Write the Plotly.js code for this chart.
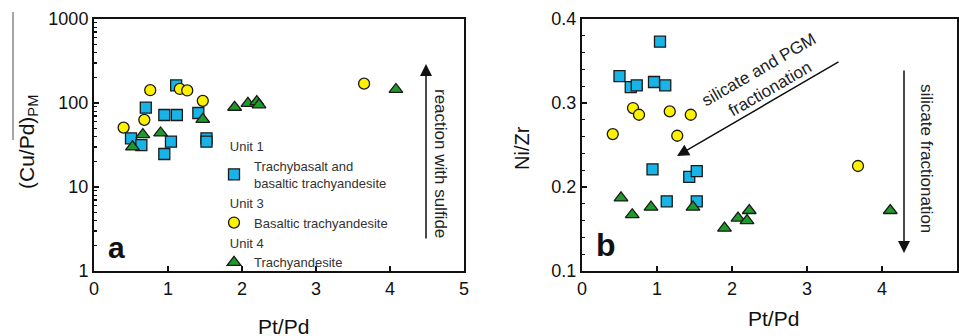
<!DOCTYPE html>
<html>
<head>
<meta charset="utf-8">
<script src="https://cdn.plot.ly/plotly-3.0.1.min.js"></script>
<style>html,body{margin:0;padding:0;background:#fff;}#chart{width:959px;height:336px;}</style>
</head>
<body>
<div id="chart"></div>
<script>
// ---- Data ----
// Panel a: Pt/Pd vs (Cu/Pd)PM
const sqX_a = [0.50, 0.64, 0.70, 0.95, 0.95, 1.04, 1.11, 1.12, 1.41, 1.52, 1.52];
const sqY_a = [38, 31.5, 88, 72, 24.7, 34.7, 162, 72, 76, 38, 34.7];
const ciX_a = [0.40, 0.68, 0.76, 1.16, 1.26, 1.47, 3.65];
const ciY_a = [51, 63, 142, 147, 141, 106, 170];
const trX_a = [0.52, 0.66, 0.90, 1.47, 1.90, 2.08, 2.20, 2.23, 4.08];
const trY_a = [30, 42, 44, 64, 89, 99, 104, 95, 145];
// Panel b: Pt/Pd vs Ni/Zr
const sqX_b = [0.50, 0.65, 0.73, 0.96, 1.04, 1.11, 0.94, 1.43, 1.53, 1.13, 1.53];
const sqY_b = [0.332, 0.319, 0.321, 0.325, 0.373, 0.321, 0.221, 0.212, 0.219, 0.183, 0.183];
const ciX_b = [0.41, 0.68, 0.76, 1.17, 1.27, 1.45, 3.68];
const ciY_b = [0.263, 0.294, 0.286, 0.290, 0.261, 0.286, 0.225];
const trX_b = [0.52, 0.67, 0.92, 1.48, 1.90, 2.08, 2.20, 2.23, 4.11];
const trY_b = [0.187, 0.167, 0.176, 0.176, 0.151, 0.163, 0.160, 0.172, 0.172];

const groupTitles = ["Unit 1", "Unit 3", "Unit 4"];
const seriesNames = ["Trachybasalt and<br>basaltic trachyandesite", "Basaltic trachyandesite", "Trachyandesite"];
const xTicks = [0, 1, 2, 3, 4, 5];
const yTicksA = [1, 10, 100, 1000];
const yTicksB = [0.1, 0.2, 0.3, 0.4];

// ---- Styles ----
const W = 959, H = 336;
const px = v => v / W, py = v => 1 - v / H;
const FONT = "Arial, 'Liberation Sans', sans-serif";
const ol = {color: '#1a1a1a', width: 1.3};
const styles = [
  {symbol: 'square', size: 11, color: '#17b4e8', line: ol},
  {symbol: 'circle', size: 11, color: '#fff200', line: ol},
  {symbol: 'triangle-up', size: 12, color: '#1f9a2a', line: ol}
];
const dataA = [[sqX_a, sqY_a], [ciX_a, ciY_a], [trX_a, trY_a]];
const dataB = [[sqX_b, sqY_b], [ciX_b, ciY_b], [trX_b, trY_b]];
const NB = '\u00a0\u00a0\u00a0';

const traces = [];
dataA.forEach((d, i) => traces.push({
  type: 'scatter', mode: 'markers', x: d[0], y: d[1], xaxis: 'x', yaxis: 'y',
  name: seriesNames[i], legendgroup: 'g' + i,
  legendgrouptitle: {text: NB + groupTitles[i], font: {size: 13, color: '#333', family: FONT}},
  marker: styles[i], showlegend: true, cliponaxis: false
}));
dataB.forEach((d, i) => traces.push({
  type: 'scatter', mode: 'markers', x: d[0], y: d[1], xaxis: 'x2', yaxis: 'y2',
  name: seriesNames[i], legendgroup: 'g' + i, marker: styles[i], showlegend: false, cliponaxis: false
}));

const axBase = {
  showline: true, linecolor: '#111', linewidth: 2, mirror: true,
  ticks: 'inside', ticklen: 5, tickwidth: 1.5, tickcolor: '#111',
  showgrid: false, zeroline: false,
  tickfont: {family: FONT, size: 18, color: '#111'}
};

function ann(x, y, text, size, extra) {
  return Object.assign({xref: 'paper', yref: 'paper', x: px(x), y: py(y), text: text, showarrow: false,
    xanchor: 'center', yanchor: 'middle', font: {size: size, family: FONT, color: '#111'}}, extra || {});
}
function arrow(hx, hy, ax, ay) {
  return {xref: 'paper', yref: 'paper', x: px(hx), y: py(hy), ax: ax, ay: ay,
    text: '', showarrow: true, arrowhead: 2, arrowsize: 1.6, arrowwidth: 1.5, arrowcolor: '#111'};
}

const layout = {
  width: W, height: H,
  margin: {l: 0, r: 0, t: 0, b: 0},
  paper_bgcolor: '#fff', plot_bgcolor: '#fff',
  font: {family: FONT, color: '#111'},
  showlegend: true,
  legend: {
    x: px(214), y: py(131), xanchor: 'left', yanchor: 'top',
    traceorder: 'grouped', tracegroupgap: 0,
    font: {family: FONT, size: 13, color: '#333'},
    bgcolor: 'rgba(0,0,0,0)', borderwidth: 0
  },
  xaxis: Object.assign({}, axBase, {
    domain: [px(94), px(464)], range: [0, 5], tickmode: 'array', tickvals: xTicks, anchor: 'y'
  }),
  yaxis: Object.assign({}, axBase, {
    domain: [py(271), py(19)], type: 'log', range: [0, 3],
    tickmode: 'linear', tick0: 0, dtick: 1, anchor: 'x',
    minor: {ticks: 'inside', ticklen: 3, tickwidth: 1.2, tickcolor: '#111', dtick: 'D1', showgrid: false}
  }),
  xaxis2: Object.assign({}, axBase, {
    domain: [px(582), px(957)], range: [0, 5], tickmode: 'array', tickvals: xTicks, anchor: 'y2'
  }),
  yaxis2: Object.assign({}, axBase, {
    domain: [py(271), py(19)], range: [yTicksB[0], yTicksB[yTicksB.length - 1]],
    tickmode: 'linear', tick0: yTicksB[0], dtick: 0.1, tickformat: '.1f', anchor: 'x2',
    minor: {ticks: 'inside', ticklen: 3, tickwidth: 1.2, tickcolor: '#111', tick0: 0.1, dtick: 0.02, showgrid: false}
  }),
  shapes: [
    {type: 'line', xref: 'paper', yref: 'paper', x0: px(13), x1: px(13), y0: py(12), y1: py(140),
     line: {color: '#888', width: 1.5}}
  ],
  annotations: [
    ann(283, 326, 'Pt/Pd', 21),
    ann(773, 318, 'Pt/Pd', 21),
    ann(28, 142, '(Cu/Pd)<sub>PM</sub>', 21, {textangle: -90}),
    ann(522, 148, 'Ni/Zr', 20, {textangle: -90}),
    ann(116, 247, '<b>a</b>', 30),
    ann(606, 245, '<b>b</b>', 32),
    arrow(426, 64, 0, 176),
    arrow(904, 253, 0, -184),
    arrow(677, 156, 163, -95),
    ann(441, 163, 'reaction with sulfide', 17, {textangle: 90, font: {size: 17, family: FONT, color: '#222'}}),
    ann(927, 158, 'silicate fractionation', 17, {textangle: 90, font: {size: 17, family: FONT, color: '#222'}}),
    ann(764, 79, 'silicate and PGM<br>fractionation', 17, {textangle: -30, font: {size: 17, family: FONT, color: '#222'}})
  ]
};

Plotly.newPlot('chart', traces, layout, {staticPlot: true, displayModeBar: false});
</script>
</body>
</html>
